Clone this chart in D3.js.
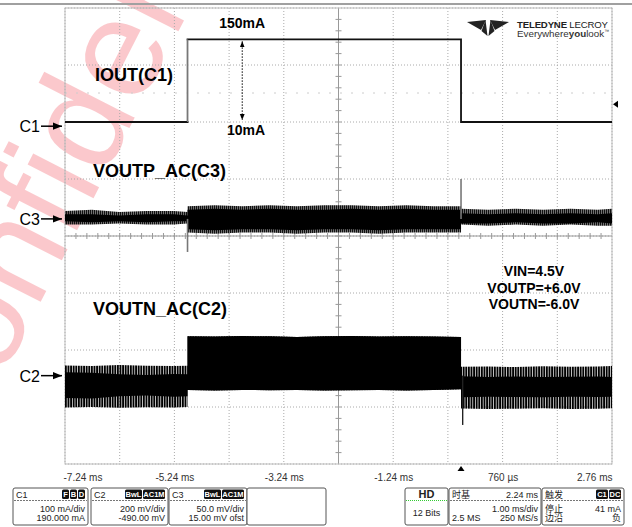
<!DOCTYPE html>
<html>
<head>
<meta charset="utf-8">
<script src="https://cdn.jsdelivr.net/npm/d3@7"></script>
<style>
body { margin: 0; background: #fff; }
svg { display: block; font-family: "Liberation Sans", Arial, sans-serif; }
</style>
</head>
<body>
<div id="scope"></div>
<script>
// time base 1.00 ms/div, 10 divisions
var timeTicks = [-7.24, -5.24, -3.24, -1.24, 0.76, 2.76];
var timeLabels = ['-7.24 ms', '-5.24 ms', '-3.24 ms', '-1.24 ms', '760 \u00b5s', '2.76 ms'];

// C1 load current (mA)
var c1Time = [-7.24, -5.0, -5.0, 0.0, 0.0, 2.76];
var c1Current = [10, 10, 155, 155, 10, 10];
var triggerLevel = 41;

// envelope sample times for the ripple traces (ms)
var envTime = [-7.24, -6.75, -6.25, -5.75, -5.25, -5.0,
               -5.0, -4.5, -4.0, -3.5, -3.0, -2.5, -2.0, -1.5, -1.0, -0.5, 0.0,
               0.0, 0.5, 1.0, 1.5, 2.0, 2.5, 2.76];

// C3 VOUTP ripple (mV)
var c3Max     = [7, 8, 6, 7, 7, 6,  11, 12, 11, 12, 11, 12, 12, 11, 12, 11, 11,  9, 8, 9, 8, 9, 8, 9];
var c3Min     = [-5, -5, -4, -5, -5, -4,  -12, -13, -12, -12, -13, -12, -12, -13, -12, -12, -12,  -5, -6, -5, -6, -5, -6, -6];
var c3CoreMax = [4, 4, 3, 4, 4, 3,  8, 9, 8, 9, 8, 8, 9, 8, 9, 8, 8,  5, 4, 5, 4, 5, 4, 5];
var c3CoreMin = [-2, -3, -2, -3, -2, -2,  -9, -10, -9, -9, -10, -9, -9, -10, -9, -9, -9,  -4, -4, -3, -4, -4, -3, -4];

// C2 VOUTN ripple (mV)
var c2Max     = [36, 34, 37, 35, 34, 35,  138, 137, 139, 138, 136, 138, 139, 137, 138, 137, 136,  31, 32, 30, 33, 31, 32, 34];
var c2Min     = [-112, -110, -113, -111, -112, -110,  -50, -52, -50, -51, -50, -52, -51, -50, -52, -50, -48,  -115, -117, -116, -114, -117, -116, -114];
var c2CoreMax = [12, 10, 5, 2, 6, 5,  138, 137, 139, 138, 136, 138, 139, 137, 138, 137, 136,  -2, -5, -3, -5, -4, -3, -5];
var c2CoreMin = [-78, -80, -72, -70, -74, -72,  -50, -52, -50, -51, -50, -52, -51, -50, -52, -50, -48,  -76, -74, -75, -76, -74, -75, -74];

// load step spikes
var spikeTime = [-5.0, 0.0];
var c3Spike = [-29, 35];
var c2SpikeTime = [0.03];
var c2Spike = [-173];

var notes = ['VIN=4.5V', 'VOUTP=+6.0V', 'VOUTN=-6.0V'];

var W = 632, H = 527;
var pLeft = 65, pRight = 612, pTop = 8, pBottom = 464;

var svg = d3.select('#scope').append('svg')
    .attr('width', W)
    .attr('height', H);

var x = d3.scaleLinear().domain([-7.24, 2.76]).range([pLeft, pRight]);
var yDiv = d3.scaleLinear().domain([-4, 4]).range([pBottom, pTop]);
// per channel vertical scales (volts/div and offset from the info boxes)
var yC1 = d3.scaleLinear().domain([-590, 210]).range([pBottom, pTop]);
var yC2 = d3.scaleLinear().domain([-310, 1290]).range([pBottom, pTop]);
var yC3 = d3.scaleLinear().domain([-215, 185]).range([pBottom, pTop]);

var defs = svg.append('defs');
defs.append('pattern')
    .attr('id', 'stripes')
    .attr('patternUnits', 'userSpaceOnUse')
    .attr('width', 2.6).attr('height', 20)
  .append('rect')
    .attr('width', 1.9).attr('height', 20).attr('fill', '#000');
defs.append('pattern')
    .attr('id', 'stripesFine')
    .attr('patternUnits', 'userSpaceOnUse')
    .attr('width', 2).attr('height', 20)
  .append('rect')
    .attr('width', 1.6).attr('height', 20).attr('fill', '#111');

// watermark
svg.append('text')
    .attr('transform', 'translate(-45,470) rotate(-63)')
    .attr('font-size', 140)
    .attr('fill', '#f02a38')
    .attr('opacity', 0.25)
    .text('Confidential');

// top bar
svg.append('line')
    .attr('x1', 0).attr('x2', W).attr('y1', 4).attr('y2', 4)
    .attr('stroke', '#a0a0a0').attr('stroke-width', 2);

// grid
var grid = svg.append('g');
grid.selectAll('.vg').data(d3.range(0, 11)).enter().append('line')
    .attr('x1', function (d) { return x(-7.24 + d); })
    .attr('x2', function (d) { return x(-7.24 + d); })
    .attr('y1', pTop).attr('y2', pBottom)
    .attr('stroke', '#aaa').attr('stroke-dasharray', '1,2');
grid.selectAll('.hg').data(d3.range(-4, 5)).enter().append('line')
    .attr('x1', pLeft).attr('x2', pRight)
    .attr('y1', function (d) { return yDiv(d); })
    .attr('y2', function (d) { return yDiv(d); })
    .attr('stroke', '#aaa').attr('stroke-dasharray', '1,2');
grid.append('line')
    .attr('x1', pLeft).attr('x2', pRight).attr('y1', 93).attr('y2', 93)
    .attr('stroke', '#ccc').attr('stroke-dasharray', '2,9');

// centre axes with minor ticks
grid.append('line')
    .attr('x1', pLeft).attr('x2', pRight).attr('y1', yDiv(0)).attr('y2', yDiv(0))
    .attr('stroke', '#999');
grid.append('line')
    .attr('x1', x(-2.24)).attr('x2', x(-2.24)).attr('y1', pTop).attr('y2', pBottom)
    .attr('stroke', '#999');
grid.selectAll('.mx').data(d3.range(1, 50)).enter().append('line')
    .attr('x1', function (d) { return x(-7.24 + d * 0.2); })
    .attr('x2', function (d) { return x(-7.24 + d * 0.2); })
    .attr('y1', yDiv(0) - 3).attr('y2', yDiv(0) + 3)
    .attr('stroke', '#999');
grid.selectAll('.my').data(d3.range(1, 40)).enter().append('line')
    .attr('x1', x(-2.24) - 3).attr('x2', x(-2.24) + 3)
    .attr('y1', function (d) { return yDiv(-4 + d * 0.2); })
    .attr('y2', function (d) { return yDiv(-4 + d * 0.2); })
    .attr('stroke', '#999');

svg.append('rect')
    .attr('x', pLeft).attr('y', pTop)
    .attr('width', pRight - pLeft).attr('height', pBottom - pTop)
    .attr('fill', 'none').attr('stroke', '#bbb');

// traces
function envelope(ys, hi, lo) {
  return d3.area()
      .x(function (d, i) { return x(envTime[i]); })
      .y0(function (d, i) { return ys(lo[i]); })
      .y1(function (d, i) { return ys(hi[i]); })(envTime);
}

svg.append('path').attr('d', envelope(yC3, c3Max, c3Min)).attr('fill', 'url(#stripesFine)');
svg.append('path').attr('d', envelope(yC3, c3CoreMax, c3CoreMin)).attr('fill', '#000');
svg.append('path').attr('d', envelope(yC2, c2Max, c2Min)).attr('fill', 'url(#stripes)');
svg.append('path').attr('d', envelope(yC2, c2CoreMax, c2CoreMin)).attr('fill', '#000');

svg.selectAll('.s3').data(spikeTime).enter().append('line')
    .attr('x1', function (d) { return x(d); })
    .attr('x2', function (d) { return x(d); })
    .attr('y1', yC3(0))
    .attr('y2', function (d, i) { return yC3(c3Spike[i]); })
    .attr('stroke', '#777').attr('stroke-width', 1.6);
svg.selectAll('.s2').data(c2SpikeTime).enter().append('line')
    .attr('x1', function (d) { return x(d); })
    .attr('x2', function (d) { return x(d); })
    .attr('y1', yC2(0))
    .attr('y2', function (d, i) { return yC2(c2Spike[i]); })
    .attr('stroke', '#222').attr('stroke-width', 1.4);

var c1Line = d3.line()
    .x(function (d, i) { return x(c1Time[i]); })
    .y(function (d) { return yC1(d); });
svg.append('path')
    .attr('d', c1Line(c1Current))
    .attr('fill', 'none').attr('stroke', '#111').attr('stroke-width', 1.8);
// rising edge is drawn faint on the scope
svg.append('line')
    .attr('x1', x(c1Time[1])).attr('x2', x(c1Time[1]))
    .attr('y1', yC1(c1Current[1]) - 1).attr('y2', yC1(c1Current[2]) + 1)
    .attr('stroke', '#fff').attr('stroke-width', 2.2);
svg.append('line')
    .attr('x1', x(c1Time[1])).attr('x2', x(c1Time[1]))
    .attr('y1', yC1(c1Current[1])).attr('y2', yC1(c1Current[2]))
    .attr('stroke', '#777').attr('stroke-width', 1.3);

// current step annotation
defs.append('marker')
    .attr('id', 'tip').attr('viewBox', '0 0 10 10')
    .attr('refX', 10).attr('refY', 5)
    .attr('markerWidth', 6).attr('markerHeight', 6)
    .attr('orient', 'auto-start-reverse')
  .append('path').attr('d', 'M0,1 L10,5 L0,9 Z').attr('fill', '#000');
svg.append('line')
    .attr('x1', x(-4.0)).attr('x2', x(-4.0))
    .attr('y1', yC1(155) + 2).attr('y2', yC1(10) - 2)
    .attr('stroke', '#000').attr('stroke-dasharray', '1.5,1.5')
    .attr('marker-start', 'url(#tip)').attr('marker-end', 'url(#tip)');
svg.append('text')
    .attr('x', x(-4.0)).attr('y', yC1(155) - 11)
    .attr('text-anchor', 'middle').attr('font-size', 14).attr('font-weight', 'bold')
    .text('150mA');
svg.append('text')
    .attr('x', x(-3.93)).attr('y', yC1(10) + 13)
    .attr('text-anchor', 'middle').attr('font-size', 14).attr('font-weight', 'bold')
    .text('10mA');

// trace titles
var titles = [['IOUT(C1)', 95, 81], ['VOUTP_AC(C3)', 93, 177], ['VOUTN_AC(C2)', 93, 315]];
svg.selectAll('.title').data(titles).enter().append('text')
    .attr('x', function (d) { return d[1]; })
    .attr('y', function (d) { return d[2]; })
    .attr('font-size', 18).attr('font-weight', 'bold')
    .text(function (d) { return d[0]; });

svg.selectAll('.note').data(notes).enter().append('text')
    .attr('x', 534)
    .attr('y', function (d, i) { return 276 + i * 16.5; })
    .attr('text-anchor', 'middle').attr('font-size', 14).attr('font-weight', 'bold')
    .text(function (d) { return d; });

// channel ground markers
var markers = [['C1', yC1(0) - 1.5], ['C3', yC3(0)], ['C2', yC2(0)]];
var mk = svg.selectAll('.mk').data(markers).enter().append('g');
mk.append('text')
    .attr('x', 40).attr('y', function (d) { return d[1] + 6; })
    .attr('text-anchor', 'end').attr('font-size', 16)
    .text(function (d) { return d[0]; });
mk.append('line')
    .attr('x1', 41).attr('x2', 62)
    .attr('y1', function (d) { return d[1]; })
    .attr('y2', function (d) { return d[1]; })
    .attr('stroke', '#000').attr('stroke-width', 1.5)
    .attr('marker-end', 'url(#tip)');

// trigger markers
svg.append('path')
    .attr('d', 'M613,' + yC1(triggerLevel) + ' l5,-3.5 v7 Z')
    .attr('fill', '#000');
svg.append('path')
    .attr('d', 'M' + x(0) + ',466 l3.5,5 h-7 Z')
    .attr('fill', '#000');

// time axis
var axis = svg.append('g')
    .attr('transform', 'translate(0,' + pBottom + ')')
    .call(d3.axisBottom(x).tickValues(timeTicks).tickSize(0).tickPadding(10)
      .tickFormat(function (d, i) { return timeLabels[i]; }));
axis.select('.domain').remove();
axis.selectAll('text')
    .attr('font-size', 10).attr('font-family', '"Liberation Sans", Arial, sans-serif')
    .attr('fill', '#333')
    .attr('text-anchor', function (d, i) { return i === 0 ? 'start' : (i === timeTicks.length - 1 ? 'end' : 'middle'); })
    .attr('dx', function (d, i) { return i === 0 ? -2 : 0; });

// logo
var logo = svg.append('g').attr('fill', '#222');
logo.append('path').attr('d', 'M467,22 L486,20 L481,30 Z');
logo.append('path').attr('d', 'M509,22 L490,20 L495,30 Z');
logo.append('path').attr('d', 'M485.5,20 L487.5,36 L481.5,31 Z');
logo.append('path').attr('d', 'M490.5,20 L488.5,36 L494.5,31 Z');
var lt = svg.append('text').attr('x', 517).attr('y', 28).attr('font-size', 9.6)
    .attr('fill', '#222').attr('textLength', 91);
lt.append('tspan').attr('font-weight', 'bold').text('TELEDYNE');
lt.append('tspan').text(' LECROY');
var lt2 = svg.append('text').attr('x', 517).attr('y', 37).attr('font-size', 9.8).attr('fill', '#333');
lt2.append('tspan').text('Everywhere');
lt2.append('tspan').attr('font-weight', 'bold').text('you');
lt2.append('tspan').text('look');
lt2.append('tspan').attr('font-size', 5).attr('dy', -4).text('\u2122');

// info boxes
var boxes = [
  {x: 13, w: 75, head: 'C1', tags: ['F', 'B', 'D'], rows: [['', '100 mA/div'], ['', '190.000 mA']]},
  {x: 91, w: 77, head: 'C2', tags: ['BwL', 'AC1M'], rows: [['', '200 mV/div'], ['', '-490.00 mV']]},
  {x: 169, w: 78, head: 'C3', tags: ['BwL', 'AC1M'], rows: [['', '50.0 mV/div'], ['', '15.00 mV ofst']]},
  {x: 247, w: 79, head: '', tags: [], rows: []},
  {x: 449, w: 92, head: '\u65f6\u57fa', right: '2.24 ms', tags: [], rows: [['', '1.00 ms/div'], ['2.5 MS', '250 MS/s']]},
  {x: 542, w: 82, head: '\u89e6\u53d1', tags: ['C1', 'DC'], rows: [['\u505c\u6b62', '41 mA'], ['\u8fb9\u6cbf', '\u8d1f']]}
];
var by = 488, bh = 37;
boxes.forEach(function (b) {
  var g = svg.append('g').attr('transform', 'translate(' + b.x + ',' + by + ')');
  g.append('rect').attr('width', b.w).attr('height', bh).attr('rx', 2)
      .attr('fill', '#fff').attr('stroke', '#555');
  if (b.head || b.tags.length) {
    g.append('line').attr('x1', 1).attr('x2', b.w - 1).attr('y1', 12.5).attr('y2', 12.5)
        .attr('stroke', '#777').attr('stroke-dasharray', '2,1');
  }
  g.append('text').attr('x', 3).attr('y', 9.5).attr('font-size', 9)
      .attr('font-family', '"Liberation Sans", "Noto Sans CJK SC", sans-serif')
      .attr('fill', '#222').text(b.head);
  if (b.right) {
    g.append('text').attr('x', b.w - 3).attr('y', 9.5).attr('font-size', 9)
        .attr('text-anchor', 'end').attr('fill', '#222').text(b.right);
  }
  var tx = b.w - 2;
  b.tags.slice().reverse().forEach(function (t) {
    var tw = t.length * 5 + 3;
    tx -= tw;
    g.append('rect').attr('x', tx).attr('y', 1.5).attr('width', tw - 1).attr('height', 9.5)
        .attr('rx', 1.5).attr('fill', '#111');
    g.append('text').attr('x', tx + (tw - 1) / 2).attr('y', 9).attr('font-size', 7.5)
        .attr('font-weight', 'bold').attr('text-anchor', 'middle').attr('fill', '#fff').text(t);
  });
  b.rows.forEach(function (r, i) {
    var ty = 23.5 + i * 9.5;
    if (r[0]) {
      g.append('text').attr('x', 3).attr('y', ty).attr('font-size', 9)
          .attr('font-family', '"Liberation Sans", "Noto Sans CJK SC", sans-serif')
          .attr('fill', '#222').text(r[0]);
    }
    g.append('text').attr('x', b.w - 3).attr('y', ty).attr('font-size', 9)
        .attr('font-family', '"Liberation Sans", "Noto Sans CJK SC", sans-serif')
        .attr('text-anchor', 'end').attr('fill', '#222').text(r[1]);
  });
});

// HD box
var hd = svg.append('g').attr('transform', 'translate(405,' + by + ')');
hd.append('rect').attr('width', 43).attr('height', bh).attr('rx', 2)
    .attr('fill', '#fff').attr('stroke', '#555');
hd.append('text').attr('x', 21.5).attr('y', 10).attr('text-anchor', 'middle')
    .attr('font-size', 11).attr('font-weight', 'bold').attr('fill', '#222').text('HD');
hd.append('line').attr('x1', 1).attr('x2', 42).attr('y1', 12.5).attr('y2', 12.5)
    .attr('stroke', '#3c3').attr('stroke-dasharray', '1,1');
hd.append('text').attr('x', 21.5).attr('y', 28).attr('text-anchor', 'middle')
    .attr('font-size', 9).attr('fill', '#222').text('12 Bits');
</script>
</body>
</html>
